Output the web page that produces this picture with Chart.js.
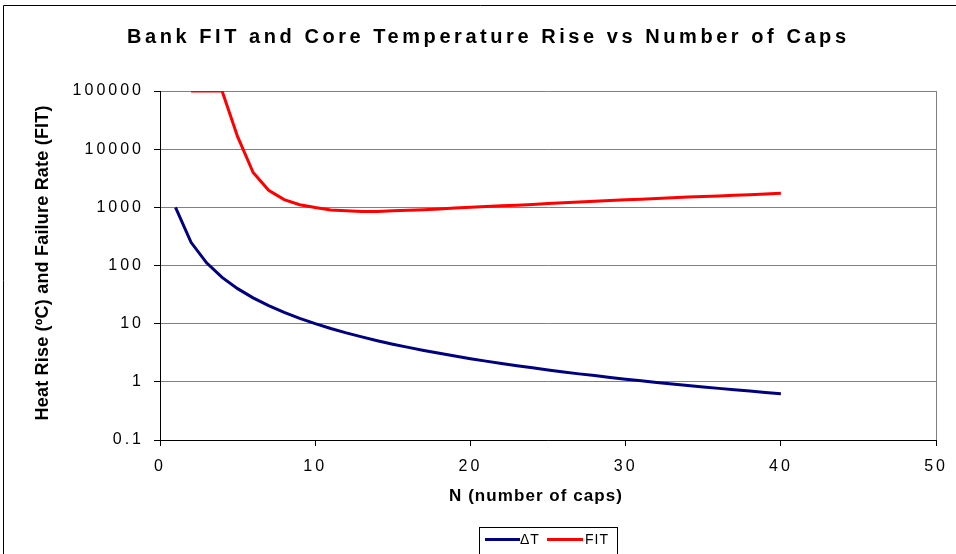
<!DOCTYPE html>
<html>
<head>
<meta charset="utf-8">
<script src="https://cdn.jsdelivr.net/npm/chart.js@4.4.1/dist/chart.umd.min.js"></script>
<style>
  html, body { margin: 0; padding: 0; background: #fff; }
  #wrap { width: 956px; height: 554px; position: relative; }
</style>
</head>
<body>
<div id="wrap"><canvas id="c" width="956" height="554"></canvas></div>
<script>
// ---- data ----
const nValues = [1, 2, 3, 4, 5, 6, 7, 8, 9, 10, 11, 12, 13, 14, 15, 16, 17, 18, 19, 20,
                 21, 22, 23, 24, 25, 26, 27, 28, 29, 30, 31, 32, 33, 34, 35, 36, 37, 38, 39, 40];
const deltaT = [1000, 250, 111, 62.5, 40, 27.8, 20.4, 15.6, 12.3, 10, 8.26, 6.94, 5.92, 5.10, 4.44, 3.91, 3.46, 3.09, 2.77, 2.50,
                2.27, 2.07, 1.89, 1.74, 1.60, 1.48, 1.37, 1.28, 1.19, 1.11, 1.04, 0.977, 0.918, 0.865, 0.816, 0.772, 0.730, 0.693, 0.657, 0.625];
const fitValues = [null, 100000, 100000, 100000, 16400, 3970, 1960, 1360, 1110, 990, 900, 870, 850, 850, 870, 890, 910, 940, 970, 1000,
                   1030, 1060, 1090, 1120, 1160, 1200, 1230, 1270, 1310, 1350, 1380, 1420, 1460, 1500, 1540, 1570, 1610, 1650, 1690, 1740];
const yTicks = [0.1, 1, 10, 100, 1000, 10000, 100000];
const yTickLabels = ["0.1", "1", "10", "100", "1000", "10000", "100000"];
const xTicks = [0, 10, 20, 30, 40, 50];
const seriesNames = ["\u0394T", "FIT"];
const chartTitle = "Bank FIT and Core Temperature Rise vs Number of Caps";
const xTitle = "N (number of caps)";
const yTitle = "Heat Rise (\u00BAC) and Failure Rate (FIT)";

const toPoints = (ys) => nValues.map((n, i) => ({ x: n, y: ys[i] }));

const FONT = "Arial, 'Liberation Sans', sans-serif";

function drawSpaced(ctx, text, cx, cy, font, targetWidth, rotate) {
  ctx.save();
  ctx.font = font;
  ctx.letterSpacing = '0px';
  const w = ctx.measureText(text).width;
  const sp = Math.max(0, (targetWidth - w) / (text.length - 1));
  ctx.letterSpacing = sp + 'px';
  ctx.fillStyle = '#000';
  ctx.textBaseline = 'middle';
  ctx.textAlign = 'left';
  ctx.translate(cx, cy);
  if (rotate) ctx.rotate(-Math.PI / 2);
  ctx.fillText(text, -targetWidth / 2, 0);
  ctx.restore();
}

const decor = {
  id: 'decor',
  beforeDraw(chart) {
    const ctx = chart.ctx;
    ctx.save();
    ctx.fillStyle = '#fff';
    ctx.fillRect(0, 0, chart.width, chart.height);
    ctx.restore();
    ctx.letterSpacing = '3px';
  },
  afterDraw(chart) {
    const ctx = chart.ctx;
    ctx.letterSpacing = '0px';
    const a = chart.chartArea;
    // plot right border
    ctx.save();
    ctx.strokeStyle = '#808080';
    ctx.lineWidth = 1;
    ctx.beginPath();
    ctx.moveTo(Math.round(a.right) + 0.5, a.top);
    ctx.lineTo(Math.round(a.right) + 0.5, a.bottom);
    ctx.stroke();
    // outer chart border
    ctx.strokeStyle = '#000';
    ctx.beginPath();
    ctx.moveTo(3.5, chart.height + 5);
    ctx.lineTo(3.5, 5.5);
    ctx.lineTo(chart.width + 5, 5.5);
    ctx.stroke();
    ctx.restore();

    // titles
    drawSpaced(ctx, chartTitle, 486.5, 37, 'bold 20px ' + FONT, 719, false);
    drawSpaced(ctx, xTitle, 535.5, 496, 'bold 17px ' + FONT, 173, false);
    drawSpaced(ctx, yTitle, 43, 263, 'bold 18px ' + FONT, 315, true);

    // legend
    ctx.save();
    ctx.strokeStyle = '#000';
    ctx.lineWidth = 1;
    ctx.strokeRect(479.5, 527.5, 138, 40);
    const items = chart.data.datasets;
    const pos = [{ x0: 485, x1: 520, tx: 520 }, { x0: 547, x1: 583, tx: 585 }];
    ctx.font = '14px ' + FONT;
    ctx.textBaseline = 'middle';
    ctx.textAlign = 'left';
    items.forEach((ds, i) => {
      ctx.strokeStyle = ds.borderColor;
      ctx.lineWidth = 3;
      ctx.beginPath();
      ctx.moveTo(pos[i].x0, 539.5);
      ctx.lineTo(pos[i].x1, 539.5);
      ctx.stroke();
      ctx.fillStyle = '#000';
      ctx.letterSpacing = '1px';
      ctx.fillText(ds.label, pos[i].tx, 540);
    });
    ctx.restore();
  }
};

new Chart(document.getElementById('c'), {
  type: 'line',
  data: {
    datasets: [
      { label: seriesNames[0], data: toPoints(deltaT), borderColor: '#000080', backgroundColor: '#000080',
        borderWidth: 3, pointRadius: 0, tension: 0, fill: false },
      { label: seriesNames[1], data: toPoints(fitValues), borderColor: '#ff0000', backgroundColor: '#ff0000',
        borderWidth: 3, pointRadius: 0, tension: 0, fill: false, spanGaps: false }
    ]
  },
  options: {
    responsive: false,
    animation: false,
    devicePixelRatio: 1,
    layout: { padding: { left: 0, right: 19, top: 91, bottom: 0 } },
    plugins: {
      legend: { display: false },
      title: { display: false },
      tooltip: { enabled: false }
    },
    scales: {
      x: {
        type: 'linear', min: 0, max: 50,
        afterBuildTicks: (s) => { s.ticks = xTicks.map(v => ({ value: v })); },
        afterFit: (s) => { s.height = 114; },
        ticks: { color: '#000', font: { family: FONT, size: 16 }, padding: 11, maxRotation: 0 },
        grid: { drawOnChartArea: false, color: '#000', tickLength: 6, tickColor: '#000' },
        border: { color: '#000', width: 1 }
      },
      y: {
        type: 'logarithmic', min: 0.1, max: 100000,
        afterBuildTicks: (s) => { s.ticks = yTicks.map(v => ({ value: v })); },
        afterFit: (s) => { s.width = 160; },
        ticks: {
          color: '#000', font: { family: FONT, size: 16 }, padding: 10,
          callback: (v) => { const i = yTicks.indexOf(v); return i >= 0 ? yTickLabels[i] : ''; }
        },
        grid: { color: '#808080', lineWidth: 1, tickLength: 6, tickColor: '#000' },
        border: { color: '#000', width: 1 }
      }
    }
  },
  plugins: [decor]
});
</script>
</body>
</html>
